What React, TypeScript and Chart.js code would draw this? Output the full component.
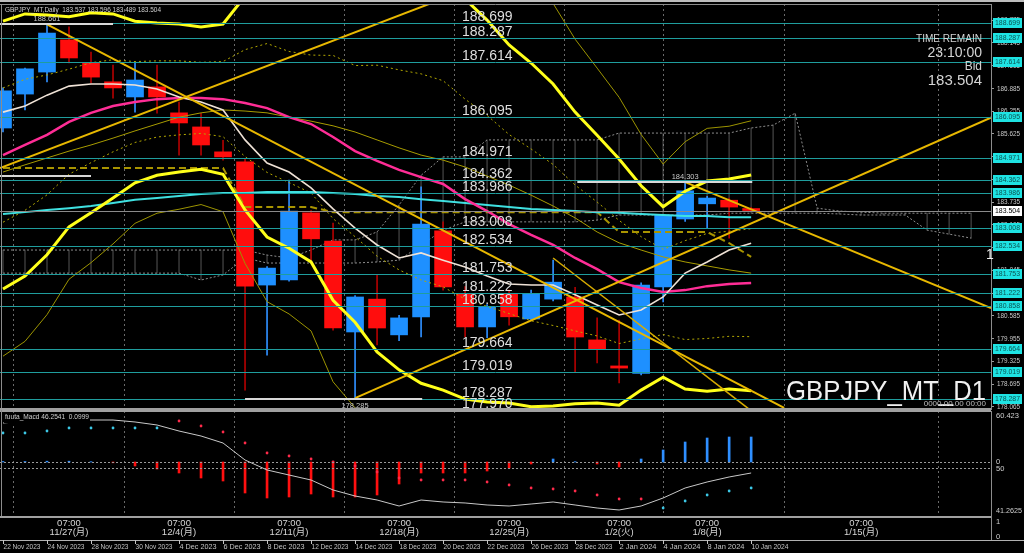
import React, { useEffect, useRef } from "react";
import { Chart, registerables } from "chart.js";

Chart.register(...registerables);

const FONT = "'Liberation Sans', 'DejaVu Sans', 'Noto Sans CJK JP', sans-serif";

// ---------------- data ----------------
const barDates = [
  "22 Nov 2023", "23 Nov 2023", "24 Nov 2023", "27 Nov 2023", "28 Nov 2023", "29 Nov 2023", "30 Nov 2023",
  "1 Dec 2023", "4 Dec 2023", "5 Dec 2023", "6 Dec 2023", "7 Dec 2023", "8 Dec 2023", "11 Dec 2023",
  "12 Dec 2023", "13 Dec 2023", "14 Dec 2023", "15 Dec 2023", "18 Dec 2023", "19 Dec 2023", "20 Dec 2023",
  "21 Dec 2023", "22 Dec 2023", "25 Dec 2023", "26 Dec 2023", "27 Dec 2023", "28 Dec 2023", "29 Dec 2023",
  "2 Jan 2024", "3 Jan 2024", "4 Jan 2024", "5 Jan 2024", "8 Jan 2024", "9 Jan 2024", "10 Jan 2024",
];
const opens = [185.79, 186.73, 187.34, 188.23, 187.59, 187.07, 186.65, 186.93, 186.21, 185.82, 185.13, 184.85, 181.44, 181.58, 183.44, 182.66, 180.14, 181.05, 180.06, 180.56, 182.94, 181.19, 180.28, 181.19, 180.5, 181.05, 181.11, 179.92, 179.2, 178.99, 181.39, 183.27, 183.69, 183.79, 183.537];
const highs = [186.9, 187.45, 188.661, 188.59, 187.89, 187.53, 187.59, 187.53, 186.51, 186.2, 185.45, 184.95, 181.95, 184.35, 183.5, 183.16, 181.15, 181.72, 180.6, 184.16, 183.19, 181.4, 180.9, 181.3, 181.3, 182.13, 181.38, 180.53, 180.47, 181.5, 183.4, 184.303, 183.9, 183.85, 183.596];
const lows = [185.68, 186.29, 187.07, 187.59, 187.04, 186.62, 186.23, 186.2, 185.04, 185.04, 184.9, 178.53, 179.5, 181.55, 182.13, 180.19, 178.285, 179.78, 179.9, 180.0, 181.3, 180.0, 179.98, 180.33, 180.45, 181.0, 179.03, 179.28, 178.73, 178.95, 180.97, 183.2, 183.02, 182.74, 183.489];
const closes = [186.82, 187.43, 188.42, 187.73, 187.2, 186.9, 187.12, 186.65, 185.93, 185.32, 184.99, 181.41, 181.91, 183.49, 182.72, 180.25, 181.11, 180.25, 180.53, 183.13, 181.39, 180.28, 180.83, 180.56, 181.19, 181.52, 180.0, 179.67, 179.14, 181.44, 183.38, 184.05, 183.85, 183.6, 183.504];

const bbMid = [185.04, 185.32, 185.6, 185.96, 186.21, 186.4, 186.51, 186.59, 186.62, 186.62, 186.59, 186.48, 186.34, 186.09, 185.9, 185.54, 185.15, 184.88, 184.63, 184.43, 184.24, 183.82, 183.49, 183.13, 182.83, 182.55, 182.19, 181.88, 181.52, 181.36, 181.25, 181.3, 181.41, 181.47, 181.5];
const bbUp1 = [186.9, 187.14, 187.26, 187.42, 187.6, 187.68, 187.63, 187.65, 187.65, 187.61, 187.63, 187.96, 188.13, 187.91, 187.81, 187.8, 187.52, 187.53, 187.4, 187.29, 187.1, 186.59, 186.14, 185.61, 185.21, 184.78, 184.21, 183.74, 183.23, 182.78, 182.43, 182.67, 182.87, 182.93, 183.0];
const bbLo1 = [183.18, 183.51, 183.94, 184.51, 184.83, 185.13, 185.39, 185.54, 185.6, 185.64, 185.55, 185.0, 184.56, 184.28, 183.99, 183.28, 182.78, 182.24, 181.86, 181.58, 181.39, 181.05, 180.85, 180.65, 180.45, 180.32, 180.17, 180.03, 179.82, 179.95, 180.07, 179.93, 179.96, 180.02, 180.01];
const bbUp2 = [188.75, 188.95, 188.92, 188.87, 188.98, 188.95, 188.75, 188.7, 188.67, 188.59, 188.67, 189.44, 189.91, 189.72, 189.72, 190.06, 189.89, 190.17, 190.17, 190.14, 189.95, 189.36, 188.78, 188.09, 187.59, 187.01, 186.23, 185.59, 184.93, 184.19, 183.61, 184.04, 184.32, 184.38, 184.49];
const bbLo2 = [181.33, 181.69, 182.28, 183.05, 183.44, 183.85, 184.27, 184.48, 184.57, 184.65, 184.51, 183.52, 182.77, 182.46, 182.08, 181.02, 180.41, 179.59, 179.09, 178.72, 178.53, 178.28, 178.2, 178.17, 178.07, 178.09, 178.15, 178.17, 178.11, 178.53, 178.89, 178.56, 178.5, 178.56, 178.51];
const bbUp3 = [190.61, 190.77, 190.58, 190.33, 190.37, 190.23, 189.87, 189.76, 189.7, 189.58, 189.71, 190.92, 191.7, 191.54, 191.63, 192.32, 192.26, 192.82, 192.94, 193.0, 192.81, 192.13, 191.43, 190.57, 189.97, 189.24, 188.25, 187.45, 186.64, 185.61, 184.79, 185.41, 185.78, 185.84, 185.99];
const bbLo3 = [179.47, 179.88, 180.62, 181.6, 182.06, 182.58, 183.15, 183.43, 183.54, 183.67, 183.47, 182.04, 180.98, 180.64, 180.17, 178.76, 178.04, 176.95, 176.32, 175.87, 175.68, 175.51, 175.55, 175.69, 175.69, 175.86, 176.13, 176.32, 176.41, 177.12, 177.71, 177.19, 177.05, 177.11, 177.01];
const maShort = [186.23, 186.4, 186.7, 186.95, 187.01, 187.01, 186.98, 186.87, 186.65, 186.51, 186.29, 185.46, 184.82, 184.57, 184.13, 183.55, 183.02, 182.55, 182.19, 182.33, 182.13, 181.94, 181.69, 181.47, 181.44, 181.44, 181.17, 180.89, 180.61, 180.75, 181.11, 181.77, 182.08, 182.41, 182.6];
const maLong = [183.41, 183.46, 183.52, 183.57, 183.63, 183.71, 183.8, 183.85, 183.91, 183.96, 183.99, 183.99, 184.02, 184.02, 184.02, 183.99, 183.96, 183.91, 183.88, 183.82, 183.77, 183.71, 183.66, 183.6, 183.55, 183.52, 183.49, 183.46, 183.44, 183.41, 183.38, 183.35, 183.35, 183.32, 183.32];
const maOlive = [184.57, 184.77, 184.96, 185.15, 185.32, 185.51, 185.71, 185.9, 186.09, 186.21, 186.29, 186.26, 186.21, 186.09, 185.98, 185.85, 185.68, 185.46, 185.24, 185.04, 184.9, 184.71, 184.46, 184.21, 183.93, 183.63, 183.3, 182.91, 182.61, 182.41, 182.22, 182.08, 181.97, 181.86, 181.77];
const kijun = [184.68, 184.68, 184.68, 184.68, 184.68, 184.68, 184.68, 184.68, 184.68, 184.68, 184.68, 183.6, 183.6, 183.6, 183.6, 183.46, 183.46, 183.46, 183.46, 183.46, 183.46, 183.46, 183.46, 183.46, 183.46, 183.46, 183.46, 183.46, 182.91, 182.91, 182.91, 182.91, 182.91, 182.6, 182.22];
const cloudTop = [182.41, 182.41, 182.41, 182.41, 182.41, 182.41, 182.41, 182.41, 182.41, 182.41, 182.41, 182.41, 182.27, 182.19, 182.41, 182.69, 182.69, 182.91, 183.66, 184.48, 184.99, 184.99, 185.46, 185.46, 185.46, 185.46, 185.46, 185.46, 185.65, 185.65, 185.65, 185.65, 185.65, 185.65, 185.79, 185.87, 186.2, 183.57, 183.49, 183.46, 183.43, 183.43, 183.43, 183.43, 183.43];
const cloudBottom = [181.77, 181.77, 181.77, 181.77, 181.77, 181.77, 181.77, 181.77, 181.77, 181.58, 181.72, 182.19, 182.05, 182.05, 182.05, 182.05, 182.05, 182.08, 182.13, 182.55, 182.96, 183.19, 183.19, 183.19, 183.19, 183.19, 183.19, 183.24, 183.38, 183.38, 183.38, 183.38, 183.38, 183.43, 183.43, 183.43, 183.43, 183.43, 183.41, 183.38, 183.38, 183.38, 182.96, 182.85, 182.74];

// trendlines: [barIndex, price] pairs
const trendA = [[-0.14, 184.68], [20.5, 189.49]];
const trendB = [[2, 188.661], [35.5, 178.04]];
const trendC = [[31, 184.29], [44.9, 180.8]];
const trendD = [[16, 178.31], [44.95, 186.09]];
const trendE = [[25, 182.19], [33.95, 177.98]];

const levelPrices = [188.699, 188.287, 187.614, 186.095, 184.971, 184.362, 183.986, 183.008, 182.534, 181.753, 181.222, 180.858, 179.664, 179.019, 178.287, 177.97];
const bidPrice = 183.504;
const markPrices = [188.661, 178.285, 184.303, 184.46];
const markFrom = [-0.14, 11, 26.1, -0.14];
const markTo = [5, 19.05, 34.05, 4];
const markLabelBar = [2, 16, 31, -1];

const yTickValues = [178.065, 178.695, 179.325, 179.955, 180.585, 181.215, 181.845, 182.475, 183.105, 183.735, 184.365, 184.995, 185.625, 186.255, 186.885, 187.515, 188.145, 188.775];
const mondayIdx = [3, 8, 13, 18, 23, 28, 32, 39];
const mondayLabels = ["11/27(月)", "12/4(月)", "12/11(月)", "12/18(月)", "12/25(月)", "1/2(火)", "1/8(月)", "1/15(月)"];

const macdHist = [0.5, 0.5, 0.8, 0.8, 0.3, -0.8, -4, -7, -11, -16, -19, -31, -36, -35, -32, -35, -35, -33, -22, -11, -11, -11, -9, -6, -2, 3, 0.3, -2, -5, 3, 12, 20, 24, 25, 25];
const macdSignal = [29, 29, 31, 34, 34, 34, 34, 34, 41, 36, 30, 19, 9, 6, 3, 0, -4, -10, -16, -18, -18, -18, -20, -23, -26, -27, -29, -33, -37, -37, -46, -39, -33, -29, -26];
const signalUp = [1, 1, 1, 1, 1, 1, 1, 1, 0, 0, 0, 0, 0, 0, 0, 0, 0, 0, 0, 0, 0, 0, 0, 0, 0, 0, 0, 0, 0, 0, 1, 1, 1, 1, 1];
const oscLine = [58.23, 58.6, 58.78, 58.78, 58.78, 58.78, 58.42, 57.87, 56.77, 55.86, 54.58, 51.48, 49.66, 48.74, 47.83, 46.01, 44.91, 44.18, 43.09, 44.18, 43.82, 43.64, 43.27, 43.09, 43.45, 43.82, 43.27, 42.72, 42.36, 43.09, 44.55, 46.37, 47.47, 48.38, 49.11];

// ---------------- config ----------------
const X_MIN = -0.136;
const X_MAX = 44.9;
const Y_MIN = 177.979;
const Y_MAX = 189.225;

const xy = (arr: number[]) => arr.map((v, i) => ({ x: i, y: v }));
const seg = (p: number[][]) => p.map(([x, y]) => ({ x, y }));
const mondayTicks = (s: any) => {
  s.ticks = mondayIdx.map((v) => ({ value: v }));
};

const lineDs = (data: any[], color: string, width: number, order: number, dash: number[] = []) => ({
  type: "line" as const,
  data,
  borderColor: color,
  borderWidth: width,
  borderDash: dash,
  pointRadius: 0,
  tension: 0,
  fill: false,
  order,
});

const mainOverlay = {
  id: "mainOverlay",
  afterDatasetsDraw(chart: any) {
    const { ctx, chartArea: a } = chart;
    const x = chart.scales.x;
    const y = chart.scales.y;
    ctx.save();
    ctx.beginPath();
    ctx.rect(a.left, a.top, a.right - a.left, a.bottom - a.top);
    ctx.clip();
    // bid line
    let py = Math.round(y.getPixelForValue(bidPrice)) + 0.5;
    ctx.strokeStyle = "#8a8a8a";
    ctx.lineWidth = 1;
    ctx.beginPath();
    ctx.moveTo(a.left, py);
    ctx.lineTo(a.right, py);
    ctx.stroke();
    // horizontal levels
    ctx.strokeStyle = "#1f9d9d";
    for (const L of levelPrices) {
      py = Math.round(y.getPixelForValue(L)) + 0.5;
      ctx.beginPath();
      ctx.moveTo(a.left, py);
      ctx.lineTo(a.right, py);
      ctx.stroke();
    }
    // high/low marker lines
    ctx.strokeStyle = "#d8d8d8";
    ctx.lineWidth = 2;
    ctx.font = `7.5px ${FONT}`;
    ctx.fillStyle = "#c8c8c8";
    ctx.textAlign = "center";
    ctx.textBaseline = "middle";
    markPrices.forEach((p, k) => {
      const yy = Math.round(y.getPixelForValue(p));
      ctx.beginPath();
      ctx.moveTo(x.getPixelForValue(markFrom[k]), yy);
      ctx.lineTo(x.getPixelForValue(markTo[k]), yy);
      ctx.stroke();
      if (markLabelBar[k] >= 0) {
        const below = p < 180;
        ctx.fillText(p.toFixed(3), x.getPixelForValue(markLabelBar[k]), below ? yy + 7 : yy - 5, 27);
      }
    });
    // level labels
    ctx.font = `14px ${FONT}`;
    ctx.fillStyle = "#dedede";
    ctx.textAlign = "left";
    ctx.textBaseline = "alphabetic";
    for (const L of levelPrices) {
      py = Math.round(y.getPixelForValue(L));
      ctx.fillText(L.toFixed(3), 462, py - 2);
    }
    ctx.restore();
  },
  afterDraw(chart: any) {
    const { ctx, chartArea: a } = chart;
    const y = chart.scales.y;
    ctx.save();
    // frame
    ctx.strokeStyle = "#bdbdbd";
    ctx.lineWidth = 2;
    ctx.beginPath();
    ctx.moveTo(0, 1);
    ctx.lineTo(1024, 1);
    ctx.stroke();
    ctx.strokeStyle = "#8c8c8c";
    ctx.lineWidth = 1;
    ctx.beginPath();
    ctx.moveTo(1.5, a.top);
    ctx.lineTo(1.5, a.bottom);
    ctx.moveTo(a.left, a.top + 0.5);
    ctx.lineTo(a.right, a.top + 0.5);
    ctx.stroke();
    ctx.strokeStyle = "#a0a0a0";
    ctx.lineWidth = 2;
    ctx.beginPath();
    ctx.moveTo(0, a.bottom - 1);
    ctx.lineTo(a.right, a.bottom - 1);
    ctx.stroke();
    // title
    ctx.font = `7.5px ${FONT}`;
    ctx.fillStyle = "#cfcfcf";
    ctx.textAlign = "left";
    ctx.textBaseline = "middle";
    ctx.fillText("GBPJPY_MT,Daily  183.537 183.596 183.489 183.504", 5, 10, 156);
    // time remain block
    ctx.textAlign = "right";
    ctx.fillStyle = "#d4d4d4";
    ctx.font = `11px ${FONT}`;
    ctx.fillText("TIME REMAIN", 982, 39, 66);
    ctx.font = `14px ${FONT}`;
    ctx.fillText("23:10:00", 982, 53);
    ctx.font = `12px ${FONT}`;
    ctx.fillText("Bid", 982, 67);
    ctx.font = `15px ${FONT}`;
    ctx.fillText("183.504", 982, 81);
    // symbol label
    ctx.font = `28px ${FONT}`;
    ctx.fillStyle = "#f0f0f0";
    ctx.textBaseline = "alphabetic";
    ctx.fillText("GBPJPY_MT_D1", 986, 400, 200);
    ctx.font = `8px ${FONT}`;
    ctx.fillStyle = "#bdbdbd";
    ctx.textBaseline = "middle";
    ctx.fillText("0000.00.00 00:00", 986, 404, 64);
    ctx.font = `14px ${FONT}`;
    ctx.fillStyle = "#f0f0f0";
    ctx.textAlign = "left";
    ctx.fillText("1", 986, 255);
    // right axis tick labels
    ctx.font = `7.5px ${FONT}`;
    ctx.fillStyle = "#c8c8c8";
    ctx.textAlign = "left";
    for (const v of yTickValues) {
      ctx.fillText(v.toFixed(3), 997, y.getPixelForValue(v), 23);
    }
    // right axis boxes
    ctx.textAlign = "center";
    for (const L of levelPrices) {
      if (L < Y_MIN || L > Y_MAX) continue;
      const py = Math.round(y.getPixelForValue(L));
      if (py > a.bottom - 4) continue;
      ctx.fillStyle = "#1ee3e3";
      ctx.fillRect(993, py - 5, 29, 10);
      ctx.fillStyle = "#0b5252";
      ctx.fillText(L.toFixed(3), 1007.5, py, 25);
    }
    const by = Math.round(y.getPixelForValue(bidPrice));
    ctx.fillStyle = "#ffffff";
    ctx.fillRect(993, by - 5, 29, 10);
    ctx.fillStyle = "#000000";
    ctx.fillText(bidPrice.toFixed(3), 1007.5, by, 25);
    ctx.restore();
  },
};

const subOverlay = {
  id: "subOverlay",
  afterDatasetsDraw(chart: any) {
    const { ctx, chartArea: a } = chart;
    const m = chart.scales.macd;
    const o = chart.scales.osc;
    ctx.save();
    ctx.strokeStyle = "#9a9a9a";
    ctx.lineWidth = 1;
    ctx.setLineDash([2, 2]);
    for (const py of [m.getPixelForValue(0), o.getPixelForValue(50)]) {
      const yy = Math.round(py) + 0.5;
      ctx.beginPath();
      ctx.moveTo(a.left, yy);
      ctx.lineTo(a.right, yy);
      ctx.stroke();
    }
    ctx.restore();
  },
  afterDraw(chart: any) {
    const { ctx, chartArea: a } = chart;
    const x = chart.scales.x;
    const m = chart.scales.macd;
    const o = chart.scales.osc;
    ctx.save();
    // borders
    ctx.strokeStyle = "#a0a0a0";
    ctx.lineWidth = 2;
    ctx.beginPath();
    ctx.moveTo(0, 1);
    ctx.lineTo(a.right, 1);
    ctx.moveTo(0, a.bottom + 1);
    ctx.lineTo(a.right, a.bottom + 1);
    ctx.stroke();
    ctx.lineWidth = 1;
    ctx.strokeStyle = "#8c8c8c";
    ctx.beginPath();
    ctx.moveTo(1.5, 0);
    ctx.lineTo(1.5, a.bottom);
    ctx.moveTo(a.right + 0.5, a.bottom);
    ctx.lineTo(a.right + 0.5, 130);
    ctx.stroke();
    ctx.strokeStyle = "#b0b0b0";
    ctx.beginPath();
    ctx.moveTo(0, 130.5);
    ctx.lineTo(1024, 130.5);
    ctx.stroke();
    // indicator label
    ctx.font = `7.5px ${FONT}`;
    ctx.textAlign = "left";
    ctx.textBaseline = "middle";
    ctx.fillStyle = "#000";
    ctx.fillRect(4, 3, 86, 10);
    ctx.fillStyle = "#cfcfcf";
    ctx.fillText("fuuta_Macd 46.2541  0.0999", 5, 7, 84);
    // right labels
    ctx.fillStyle = "#cfcfcf";
    ctx.fillText("60.423", 996, 6, 24);
    ctx.fillText("0", 996, m.getPixelForValue(0));
    ctx.fillText("50", 996, o.getPixelForValue(50) + 1);
    ctx.fillText("41.2625", 996, a.bottom - 5, 26);
    ctx.fillText("1", 996, 112);
    ctx.fillText("0", 996, 127);
    // session labels
    ctx.textAlign = "center";
    ctx.fillStyle = "#d6d6d6";
    ctx.font = `9.5px ${FONT}`;
    mondayIdx.forEach((v, k) => {
      const px = x.getPixelForValue(v);
      ctx.fillText("07:00", px, 113);
      ctx.fillText(mondayLabels[k], px, 122);
    });
    // bottom time axis
    ctx.textAlign = "left";
    ctx.font = `7.5px ${FONT}`;
    ctx.fillStyle = "#c4c4c4";
    ctx.strokeStyle = "#c4c4c4";
    barDates.forEach((d, i) => {
      if (i % 2 !== 0) return;
      const px = Math.round(x.getPixelForValue(i)) + 0.5;
      ctx.beginPath();
      ctx.moveTo(px, 130);
      ctx.lineTo(px, 134);
      ctx.stroke();
      ctx.fillText(d, px, 137, 37);
    });
    ctx.restore();
  },
};

export default function App() {
  const mainRef = useRef<HTMLCanvasElement | null>(null);
  const subRef = useRef<HTMLCanvasElement | null>(null);

  useEffect(() => {
    document.body.style.margin = "0";
    document.body.style.background = "#000";
    Chart.defaults.font.family = FONT;
    const up = closes.map((c, i) => c >= opens[i]);

    const main = new Chart(mainRef.current as HTMLCanvasElement, {
      type: "bar",
      data: {
        datasets: [
          {
            type: "bar",
            data: cloudTop.map((t, i) => ({ x: i, y: [cloudBottom[i], t] })) as any,
            backgroundColor: "rgba(150,150,150,0.35)",
            barThickness: 1,
            grouped: false,
            order: 30,
          },
          lineDs(xy(cloudTop), "#8e8e8e", 1, 29, [2, 2]),
          lineDs(xy(cloudBottom), "#8e8e8e", 1, 29, [2, 2]),
          {
            type: "bar",
            data: lows.map((l, i) => ({ x: i, y: [l, highs[i]] })) as any,
            backgroundColor: up.map((u) => (u ? "#2f8fff" : "#b00000")),
            barThickness: 1,
            grouped: false,
            order: 12,
          },
          {
            type: "bar",
            data: opens.map((o, i) => ({ x: i, y: [o, closes[i]] })) as any,
            backgroundColor: up.map((u) => (u ? "#1e90ff" : "#ff0d0d")),
            barThickness: 17,
            minBarLength: 2,
            grouped: false,
            order: 11,
          },
          lineDs(xy(bbUp3), "#9c9400", 1, 9),
          lineDs(xy(bbLo3), "#9c9400", 1, 9),
          lineDs(xy(bbUp1), "#b3a800", 1, 8, [2, 3]),
          lineDs(xy(bbLo1), "#b3a800", 1, 8, [2, 3]),
          lineDs(xy(maOlive), "#a89c00", 1, 7),
          lineDs(xy(kijun), "#a89400", 2, 7, [7, 4]),
          lineDs(xy(maLong), "#3fe0e0", 2, 6),
          lineDs(xy(bbMid), "#ff2d96", 2.5, 5),
          lineDs(xy(maShort), "#efe2d6", 1.6, 4),
          lineDs(xy(bbUp2), "#ffff1a", 3, 3),
          lineDs(xy(bbLo2), "#ffff1a", 3, 3),
          lineDs(seg(trendA), "#e8b800", 2, 2),
          lineDs(seg(trendB), "#e8b800", 2, 2),
          lineDs(seg(trendC), "#e8b800", 2, 2),
          lineDs(seg(trendD), "#e8b800", 2, 2),
          lineDs(seg(trendE), "#d8ac00", 1.5, 2),
        ] as any,
      },
      options: {
        animation: false,
        responsive: false,
        devicePixelRatio: 1,
        layout: { padding: { top: 4, left: 0, right: 0, bottom: 0 }, autoPadding: false } as any,
        plugins: { legend: { display: false }, tooltip: { enabled: false } },
        scales: {
          x: {
            type: "linear",
            min: X_MIN,
            max: X_MAX,
            offset: false,
            afterBuildTicks: mondayTicks,
            afterFit: (s: any) => {
              s.height = 0;
            },
            ticks: { display: false },
            grid: { color: "#6a6a6a", drawTicks: false },
            border: { display: false, dash: [2, 3] },
          },
          y: {
            type: "linear",
            position: "right",
            min: Y_MIN,
            max: Y_MAX,
            afterBuildTicks: (s: any) => {
              s.ticks = yTickValues.map((v) => ({ value: v }));
            },
            afterFit: (s: any) => {
              s.width = 33;
            },
            ticks: { display: false, autoSkip: false },
            grid: { drawOnChartArea: false, color: "#9a9a9a", tickLength: 3 },
            border: { color: "#8c8c8c" },
          },
        } as any,
      },
      plugins: [mainOverlay],
    });

    const sub = new Chart(subRef.current as HTMLCanvasElement, {
      type: "bar",
      data: {
        datasets: [
          {
            type: "bar",
            data: xy(macdHist) as any,
            yAxisID: "macd",
            backgroundColor: macdHist.map((v) => (v >= 0 ? "#2f8fff" : "#ff1010")),
            barThickness: 2,
            grouped: false,
            order: 5,
          },
          {
            type: "line",
            data: xy(macdSignal),
            yAxisID: "macd",
            showLine: false,
            pointRadius: 1.4,
            pointBorderWidth: 0,
            pointBackgroundColor: signalUp.map((u) => (u ? "#3cc8e6" : "#ff2a4a")),
            order: 2,
          },
          {
            type: "line",
            data: xy(oscLine),
            yAxisID: "osc",
            borderColor: "#c8c8c8",
            borderWidth: 1,
            pointRadius: 0,
            tension: 0,
            order: 1,
          },
        ] as any,
      },
      options: {
        animation: false,
        responsive: false,
        devicePixelRatio: 1,
        layout: { padding: { top: 1, left: 0, right: 0, bottom: 0 }, autoPadding: false } as any,
        plugins: { legend: { display: false }, tooltip: { enabled: false } },
        scales: {
          x: {
            type: "linear",
            min: X_MIN,
            max: X_MAX,
            offset: false,
            afterBuildTicks: mondayTicks,
            afterFit: (s: any) => {
              s.height = 37;
            },
            ticks: { display: false },
            grid: { color: "#6a6a6a", drawTicks: false },
            border: { display: false, dash: [2, 3] },
          },
          macd: { type: "linear", display: false, min: -54, max: 51 },
          osc: {
            type: "linear",
            position: "right",
            min: 41.2625,
            max: 60.423,
            afterFit: (s: any) => {
              s.width = 33;
            },
            ticks: { display: false },
            grid: { display: false },
            border: { color: "#8c8c8c" },
          },
        } as any,
      },
      plugins: [subOverlay],
    });

    return () => {
      main.destroy();
      sub.destroy();
    };
  }, []);

  return (
    <div style={{ position: "absolute", left: 0, top: 0, width: 1024, height: 553, background: "#000", overflow: "hidden" }}>
      <canvas ref={mainRef} width={1024} height={410} style={{ position: "absolute", left: 0, top: 0, width: 1024, height: 410 }} />
      <canvas ref={subRef} width={1024} height={143} style={{ position: "absolute", left: 0, top: 410, width: 1024, height: 143 }} />
    </div>
  );
}
